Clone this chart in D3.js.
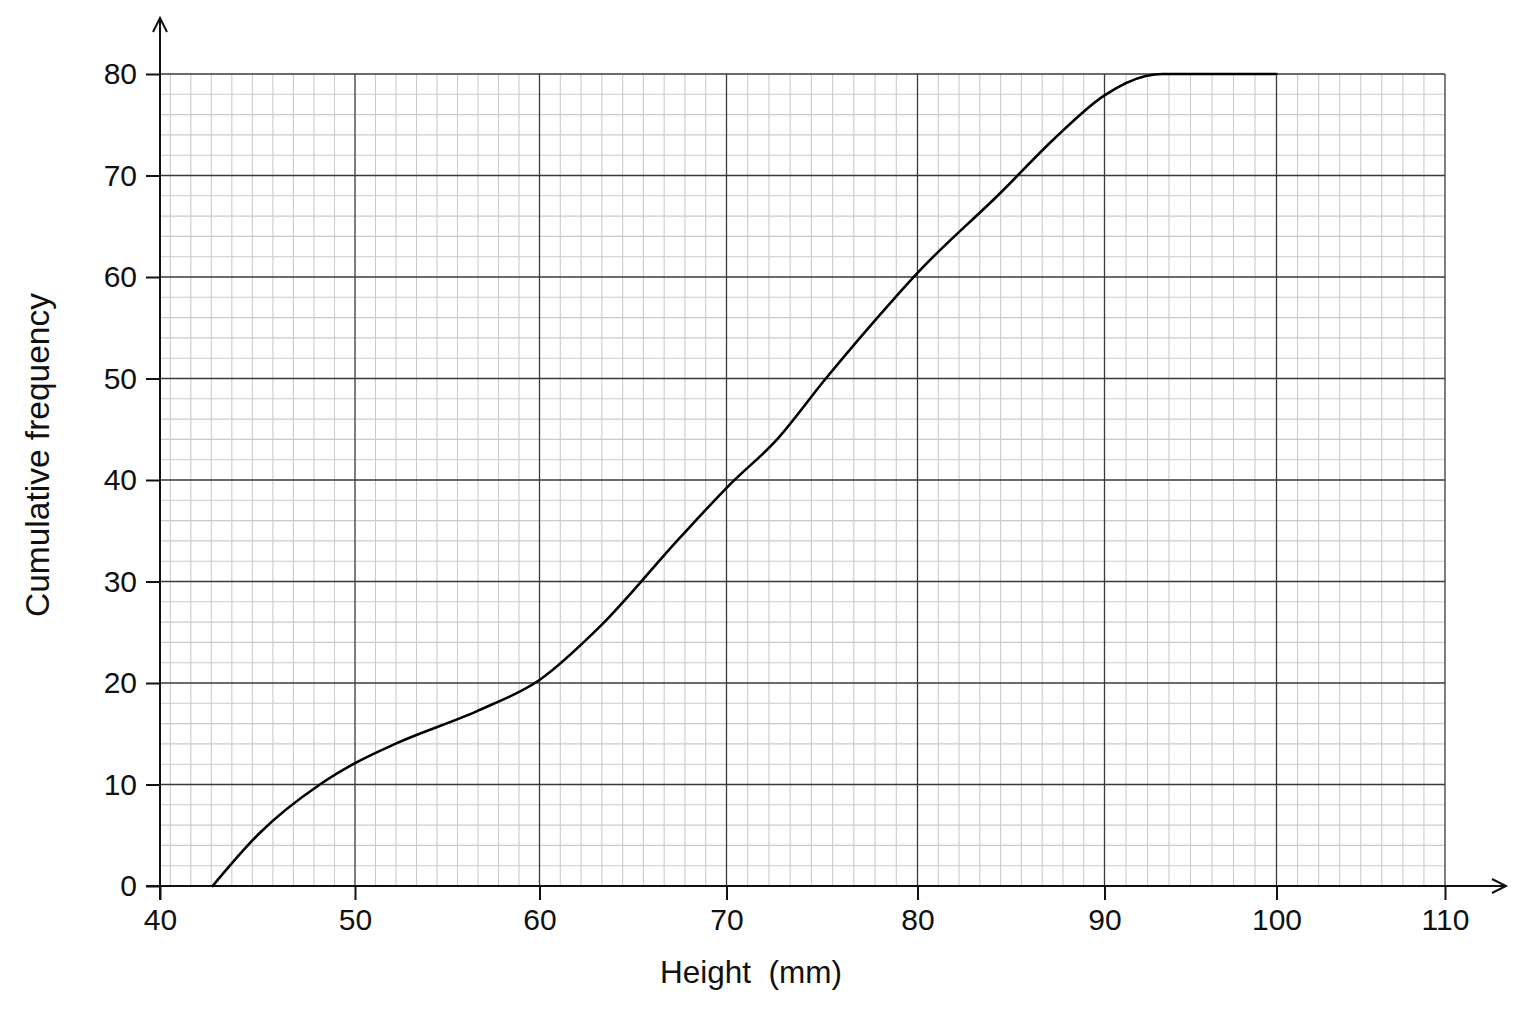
<!DOCTYPE html>
<html>
<head>
<meta charset="utf-8">
<script src="https://cdn.jsdelivr.net/npm/d3@7"></script>
<style>
  html, body { margin: 0; padding: 0; background: #ffffff; }
  svg { display: block; }
  text { font-family: "Liberation Sans", Arial, sans-serif; fill: #111; }
</style>
</head>
<body>
<svg id="chart" width="1536" height="1024"></svg>
<script>
// ---- data ----
const heights = [42.7, 45.1, 48.2, 50.0, 52.3, 56.7, 60.0, 63.2, 67.5, 70.2, 72.6, 75.2, 78.7, 80.0, 84.5, 87.3, 90.0, 92.4, 93.4, 100.0];
const cumFreq = [0, 5.2, 10.0, 12.1, 14.1, 17.3, 20.3, 25.5, 34.3, 39.6, 43.9, 50.0, 57.7, 60.4, 68.4, 73.6, 77.9, 79.8, 80.0, 80.0];
const xTicks = [40, 50, 60, 70, 80, 90, 100, 110];
const yTicks = [0, 10, 20, 30, 40, 50, 60, 70, 80];
const xMinorDivisions = [9.5, 9, 9, 9, 9, 8, 8]; // minor cells per decade (as drawn on the paper)
const yMinorStep = 2;
const xLabel = "Height  (mm)";
const yLabel = "Cumulative frequency";

// ---- layout ----
const xTickPx = [160, 355, 539.5, 726.5, 917.5, 1104.5, 1276.5, 1445];
const yRangePx = [886, 74];

const svg = d3.select("#chart");
const x = d3.scaleLinear().domain(xTicks).range(xTickPx);
const y = d3.scaleLinear().domain([0, 80]).range(yRangePx);

const x0 = x(40), x1 = x(110), yTop = y(80), yBot = y(0);

// minor grid values
const xMinor = [];
xTicks.slice(0, -1).forEach((lo, i) => {
  const hi = xTicks[i + 1], n = xMinorDivisions[i];
  for (let k = 1; hi - k * (hi - lo) / n > lo + 1e-6; k++) xMinor.push(hi - k * (hi - lo) / n);
});
const yMinor = d3.range(0, 80 + 1e-6, yMinorStep).filter(v => v % 10 !== 0);

const grid = svg.append("g");
grid.selectAll(".xm").data(xMinor).join("line")
  .attr("x1", d => x(d)).attr("x2", d => x(d)).attr("y1", yTop).attr("y2", yBot)
  .attr("stroke", "#cbcbcb").attr("stroke-width", 1.1);
grid.selectAll(".ym").data(yMinor).join("line")
  .attr("x1", x0).attr("x2", x1).attr("y1", d => y(d)).attr("y2", d => y(d))
  .attr("stroke", "#cbcbcb").attr("stroke-width", 1.1);
grid.selectAll(".xM").data(xTicks.slice(1)).join("line")
  .attr("x1", d => x(d)).attr("x2", d => x(d)).attr("y1", yTop).attr("y2", yBot)
  .attr("stroke", "#3a3a3a").attr("stroke-width", 1.3);
grid.selectAll(".yM").data(yTicks.slice(1)).join("line")
  .attr("x1", x0).attr("x2", x1).attr("y1", d => y(d)).attr("y2", d => y(d))
  .attr("stroke", "#3a3a3a").attr("stroke-width", 1.3);

// axes with ticks
const xAxis = svg.append("g").attr("transform", `translate(0,${yBot})`)
  .call(d3.axisBottom(x).tickValues(xTicks).tickSize(14).tickPadding(9));
const yAxis = svg.append("g").attr("transform", `translate(${x0},0)`)
  .call(d3.axisLeft(y).tickValues(yTicks).tickSize(14).tickPadding(9));
[xAxis, yAxis].forEach(g => {
  g.select(".domain").remove();
  g.selectAll(".tick line").attr("stroke", "#111").attr("stroke-width", 2);
  g.selectAll(".tick text").style("font-family", '"Liberation Sans", Arial, sans-serif')
    .style("font-size", "30px").attr("fill", "#111");
});

// axis lines with open arrowheads
const axisG = svg.append("g").attr("stroke", "#111").attr("stroke-width", 2).attr("fill", "none");
axisG.append("line").attr("x1", x0 - 14).attr("x2", 1506).attr("y1", yBot).attr("y2", yBot);
axisG.append("path").attr("d", `M${1506 - 14},${yBot - 7} L1506,${yBot} L${1506 - 14},${yBot + 7}`);
axisG.append("line").attr("x1", x0).attr("x2", x0).attr("y1", yBot + 14).attr("y2", 18);
axisG.append("path").attr("d", `M${x0 - 7},${18 + 14} L${x0},18 L${x0 + 7},${18 + 14}`);

// curve
const pts = heights.map((h, i) => [h, cumFreq[i]]);
svg.append("path").datum(pts)
  .attr("fill", "none").attr("stroke", "#000").attr("stroke-width", 2.6)
  .attr("stroke-linejoin", "round").attr("stroke-linecap", "round")
  .attr("d", d3.line().x(d => x(d[0])).y(d => y(d[1])).curve(d3.curveMonotoneX));

// labels
svg.append("text").attr("x", 751).attr("y", 983).attr("text-anchor", "middle")
  .style("font-size", "31.5px").style("white-space", "pre").text(xLabel);
svg.append("text").attr("transform", "translate(49,455) rotate(-90)").attr("text-anchor", "middle")
  .style("font-size", "33.5px").text(yLabel);
</script>
</body>
</html>
